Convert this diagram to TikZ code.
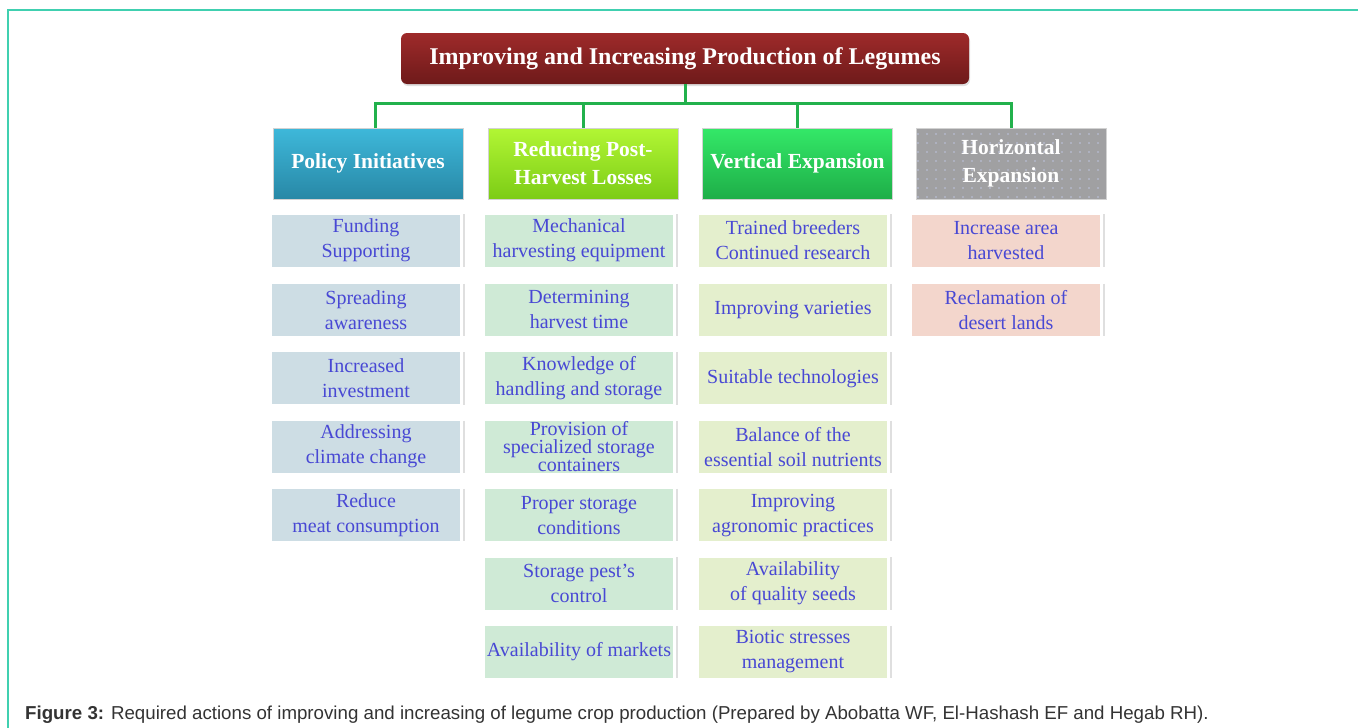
\documentclass[tikz,border=0pt]{standalone}
\usepackage{fontspec}
\setmainfont{Liberation Serif}
\setsansfont{Liberation Sans}
\usetikzlibrary{positioning, shadows, patterns.meta}

\definecolor{framecol}{RGB}{64,208,176}
\definecolor{linkgreen}{RGB}{34,177,76}
\definecolor{goalA}{RGB}{158,42,42}
\definecolor{goalB}{RGB}{110,26,26}
\definecolor{polA}{RGB}{62,184,218}
\definecolor{polB}{RGB}{40,136,166}
\definecolor{redA}{RGB}{178,246,52}
\definecolor{redB}{RGB}{124,204,22}
\definecolor{verA}{RGB}{52,232,104}
\definecolor{verB}{RGB}{30,174,72}
\definecolor{horfill}{RGB}{160,160,162}
\definecolor{hordot}{RGB}{190,196,222}
\definecolor{polfill}{RGB}{205,221,228}
\definecolor{redfill}{RGB}{207,234,214}
\definecolor{verfill}{RGB}{228,239,205}
\definecolor{horitem}{RGB}{243,214,204}
\definecolor{itemtext}{RGB}{72,72,212}
\definecolor{captext}{RGB}{51,51,51}

\tikzset{
  mainbox/.style={rounded corners=6pt, top color=goalA, bottom color=goalB,
    minimum width=568pt, minimum height=51pt, text=white,
    drop shadow={opacity=0.25, shadow xshift=1pt, shadow yshift=-2pt},
    font=\bfseries\fontsize{24}{28}\selectfont},
  headbox/.style={draw=gray!35, line width=1pt, minimum width=190pt,
    minimum height=71pt, inner sep=0pt, align=center,
    text=white, font=\bfseries\fontsize{21.5}{28}\selectfont},
  itembox/.style={minimum width=188pt, minimum height=52pt,
    inner sep=0pt, align=center, text=itemtext,
    font=\fontsize{20}{25}\selectfont},
  polbox/.style={itembox, fill=polfill},
  redbox/.style={itembox, fill=redfill},
  verbox/.style={itembox, fill=verfill},
  horbox/.style={itembox, fill=horitem},
  sidebar/.style={line width=2.5pt, gray!25},
  link/.style={draw=linkgreen, line width=3pt},
}

\begin{document}
\begin{tikzpicture}[x=1pt, y=-1pt]
  \useasboundingbox (0,0) rectangle (1358,728);
  \draw[framecol, line width=1.5pt] (8,728) -- (8,10) -- (1358,10);

  % top of the tree
  \node[mainbox] (goal) at (685,58.5) {Improving and Increasing Production of Legumes};

  % the four branches
  \node[headbox, top color=polA, bottom color=polB] (policy) at (368,163.5) {Policy Initiatives};
  \node[headbox, top color=redA, bottom color=redB] (losses) at (583,163.5) {Reducing Post-\\Harvest Losses};
  \node[headbox, top color=verA, bottom color=verB] (vertical) at (797.5,163.5) {Vertical Expansion};
  \node[headbox, fill=horfill,
    postaction={pattern={Dots[distance=9pt, radius=0.8pt]}, pattern color=hordot}]
    (horizontal) at (1011,163.5) {Horizontal\\Expansion};

  \draw[link] (goal.south) -- ++(0,19) coordinate (bus);
  \draw[link] ([xshift=7pt]policy.north) |- (bus) -| (horizontal.north);
  \draw[link] (losses.north) -- (losses.north |- bus);
  \draw[link] (vertical.north) -- (vertical.north |- bus);

  % policy column
  \node[polbox] (pol1) at (366,240.5) {Funding\\Supporting};
  \node[polbox, below=17pt of pol1] (pol2) {Spreading\\awareness};
  \node[polbox, below=16pt of pol2] (pol3) {Increased\\investment};
  \node[polbox, below=16pt of pol3] (pol4) {Addressing\\climate change};
  \node[polbox, below=16pt of pol4] (pol5) {Reduce\\meat consumption};

  % post-harvest column
  \node[redbox] (red1) at (579,240.5) {Mechanical\\harvesting equipment};
  \node[redbox, below=17pt of red1] (red2) {Determining\\harvest time};
  \node[redbox, below=16pt of red2] (red3) {Knowledge of\\handling and storage};
  \node[redbox, below=16pt of red3, font=\fontsize{20}{17.5}\selectfont] (red4) {Provision of\\specialized storage\\containers};
  \node[redbox, below=16pt of red4] (red5) {Proper storage\\conditions};
  \node[redbox, below=16pt of red5] (red6) {Storage pest's\\control};
  \node[redbox, below=16pt of red6] (red7) {Availability of markets};

  % vertical expansion column
  \node[verbox] (ver1) at (793,240.5) {Trained breeders\\Continued research};
  \node[verbox, below=17pt of ver1] (ver2) {Improving varieties};
  \node[verbox, below=16pt of ver2] (ver3) {Suitable technologies};
  \node[verbox, below=16pt of ver3] (ver4) {Balance of the\\essential soil nutrients};
  \node[verbox, below=16pt of ver4] (ver5) {Improving\\agronomic practices};
  \node[verbox, below=16pt of ver5] (ver6) {Availability\\of quality seeds};
  \node[verbox, below=16pt of ver6] (ver7) {Biotic stresses\\management};

  % horizontal expansion column
  \node[horbox] (hor1) at (1006,240.5) {Increase area\\harvested};
  \node[horbox, below=17pt of hor1] (hor2) {Reclamation of\\desert lands};

  \foreach \n in {pol1,pol2,pol3,pol4,pol5,red1,red2,red3,red4,red5,red6,red7,
                  ver1,ver2,ver3,ver4,ver5,ver6,ver7,hor1,hor2}
    \draw[sidebar] ([xshift=4pt]\n.north east) -- ([xshift=4pt]\n.south east);

  \node[anchor=base west, inner sep=0pt, text=captext,
    font=\sffamily\fontsize{18.7}{22}\selectfont] (caption) at (25,719)
    {\textbf{Figure 3:} Required actions of improving and increasing of legume crop production (Prepared by Abobatta WF, El-Hashash EF and Hegab RH).};
\end{tikzpicture}
\end{document}
